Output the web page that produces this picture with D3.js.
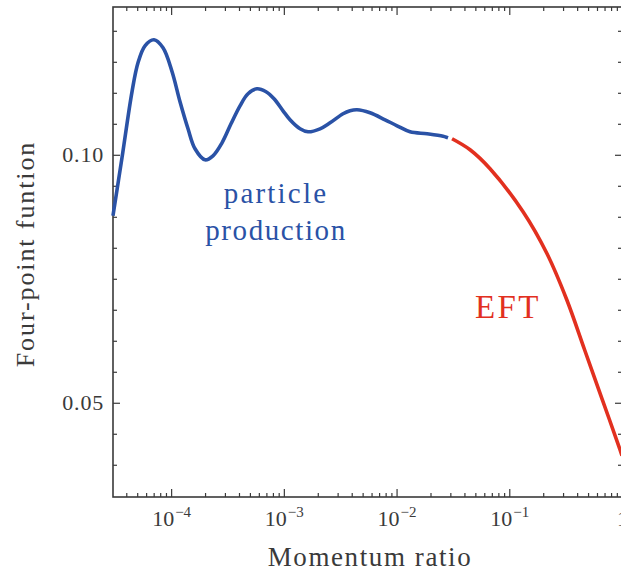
<!DOCTYPE html>
<html>
<head>
<meta charset="utf-8">
<script src="https://cdn.jsdelivr.net/npm/d3@7"></script>
<style>
  html, body { margin: 0; padding: 0; background: #fff; }
  svg { display: block; }
  text { font-family: "Liberation Serif", "DejaVu Serif", serif; }
</style>
</head>
<body>
<svg id="chart" width="621" height="571"></svg>
<script>
// ---- data ----
const blueRatio = [3.049e-5, 3.665e-5, 4.496e-5, 5.082e-5, 5.864e-5, 7.048e-5, 8.472e-5, 1.018e-4, 1.199e-4, 1.412e-4,
                   1.629e-4, 1.998e-4, 2.352e-4, 2.828e-4, 3.398e-4, 4.085e-4, 4.810e-4, 5.781e-4, 6.949e-4, 8.180e-4,
                   9.833e-4, 1.134e-3, 1.392e-3, 1.639e-3, 2.094e-3, 2.569e-3, 3.350e-3, 3.865e-3, 4.460e-3, 5.817e-3,
                   7.902e-3, 1.010e-2, 1.317e-2, 1.865e-2, 2.585e-2, 2.862e-2];
const blueValue = [0.08770, 0.09940, 0.11270, 0.11855, 0.12198, 0.12319, 0.12157, 0.11680, 0.11069, 0.10524,
                   0.10121, 0.09899, 0.09980, 0.10242, 0.10625, 0.10988, 0.11230, 0.11331, 0.11270, 0.11129,
                   0.10887, 0.10706, 0.10524, 0.10464, 0.10524, 0.10645, 0.10827, 0.10887, 0.10907, 0.10847,
                   0.10706, 0.10585, 0.10464, 0.10423, 0.10373, 0.10343];
const redRatio = [3.107e-2, 4.487e-2, 6.753e-2, 1.325e-1, 2.163e-1, 3.236e-1, 4.656e-1, 6.698e-1, 9.616e-1, 1.0];
const redValue = [0.10323, 0.10101, 0.09718, 0.08851, 0.08004, 0.07077, 0.06069, 0.05060, 0.04052, 0.03931];

const xMajorTicks = [1e-4, 1e-3, 1e-2, 1e-1, 1];
const xMajorExp = ["\u22124", "\u22123", "\u22122", "\u22121", ""];
const yMajorTicks = [0.05, 0.10];
const yMajorLabels = ["0.05", "0.10"];
const yMinorStep = 0.00625;

const xLabel = "Momentum ratio";
const yLabel = "Four-point funtion";
const blueText = ["particle", "production"];
const redText = "EFT";

// ---- layout ----
const L = 113, R = 622, T = 7, B = 497;
const blue = "#2a52a6", red = "#e2301f", axisCol = "#3a3a3a", textCol = "#3a3a3a";

const svg = d3.select("#chart");
const x = d3.scaleLog().domain([3.05e-5, 1]).range([L, R]);
const y = d3.scaleLinear().domain([0.031, 0.1298]).range([B, T]);

// minor ticks
const xMinor = [];
for (let e = -5; e <= -1; e++) for (let m = 2; m <= 9; m++) {
  const v = m * Math.pow(10, e);
  if (v >= 3.05e-5 && v < 1) xMinor.push(v);
}
const yMinor = [];
for (let v = 0.0375; v < 0.129; v += yMinorStep) {
  const vv = +v.toFixed(5);
  if (!yMajorTicks.some(t => Math.abs(t - vv) < 1e-6)) yMinor.push(vv);
}

function styleAxis(g) {
  g.select(".domain").remove();
  g.selectAll("line").attr("stroke", axisCol).attr("stroke-width", 1.2);
}

// bottom axis
svg.append("g").attr("transform", `translate(0,${B})`)
  .call(d3.axisBottom(x).tickValues(xMinor).tickSize(-4).tickFormat(""))
  .call(styleAxis);
const xb = svg.append("g").attr("transform", `translate(0,${B})`)
  .call(d3.axisBottom(x).tickValues(xMajorTicks).tickSize(-8).tickPadding(13).tickFormat(""))
  .call(styleAxis);
xb.selectAll(".tick text").each(function(d, i) {
  const t = d3.select(this).attr("fill", textCol).attr("font-size", 22)
    .attr("font-family", "Liberation Serif").attr("dy", "0.71em");
  if (xMajorExp[i] === "") {
    t.text("1");
  } else {
    t.append("tspan").text("10");
    t.append("tspan").attr("font-size", 15).attr("dy", "-0.55em").attr("dx", "1").text(xMajorExp[i]);
  }
});
// top axis
svg.append("g").attr("transform", `translate(0,${T})`)
  .call(d3.axisTop(x).tickValues(xMinor).tickSize(-4).tickFormat("")).call(styleAxis);
svg.append("g").attr("transform", `translate(0,${T})`)
  .call(d3.axisTop(x).tickValues(xMajorTicks).tickSize(-8).tickFormat("")).call(styleAxis);

// left axis
svg.append("g").attr("transform", `translate(${L},0)`)
  .call(d3.axisLeft(y).tickValues(yMinor).tickSize(-4).tickFormat("")).call(styleAxis);
const yl = svg.append("g").attr("transform", `translate(${L},0)`)
  .call(d3.axisLeft(y).tickValues(yMajorTicks).tickSize(-7).tickPadding(9)
    .tickFormat((d, i) => yMajorLabels[i]))
  .call(styleAxis);
yl.selectAll(".tick text").attr("fill", textCol).attr("font-size", 22)
  .attr("font-family", "Liberation Serif").attr("letter-spacing", 0.8);
// right axis
svg.append("g").attr("transform", `translate(${R},0)`)
  .call(d3.axisRight(y).tickValues(yMinor).tickSize(-4).tickFormat("")).call(styleAxis);
svg.append("g").attr("transform", `translate(${R},0)`)
  .call(d3.axisRight(y).tickValues(yMajorTicks).tickSize(-7).tickFormat("")).call(styleAxis);

// frame
svg.append("rect").attr("x", L).attr("y", T).attr("width", R - L).attr("height", B - T)
  .attr("fill", "none").attr("stroke", axisCol).attr("stroke-width", 1.6);

// curves
const line = d3.line().x(d => x(d[0])).y(d => y(d[1])).curve(d3.curveCatmullRom.alpha(0.5));
svg.append("path").datum(blueRatio.map((r, i) => [r, blueValue[i]]))
  .attr("d", line).attr("fill", "none").attr("stroke", blue).attr("stroke-width", 3.6)
  .attr("stroke-linejoin", "round");
svg.append("path").datum(redRatio.map((r, i) => [r, redValue[i]]))
  .attr("d", line).attr("fill", "none").attr("stroke", red).attr("stroke-width", 3.6)
  .attr("stroke-linejoin", "round");

// annotations
svg.append("text").attr("x", 276).attr("y", 203).attr("text-anchor", "middle")
  .attr("font-size", 29).attr("letter-spacing", 2.2).attr("fill", blue).text(blueText[0]);
svg.append("text").attr("x", 276).attr("y", 240).attr("text-anchor", "middle")
  .attr("font-size", 29).attr("letter-spacing", 1.6).attr("fill", blue).text(blueText[1]);
svg.append("text").attr("x", 508).attr("y", 318).attr("text-anchor", "middle")
  .attr("font-size", 33).attr("letter-spacing", 2.4).attr("fill", red).text(redText);

// axis titles
svg.append("text").attr("x", 370).attr("y", 566).attr("text-anchor", "middle")
  .attr("font-size", 27).attr("letter-spacing", 1.6).attr("fill", textCol).text(xLabel);
svg.append("text").attr("transform", "translate(34,254) rotate(-90)").attr("text-anchor", "middle")
  .attr("font-size", 26).attr("letter-spacing", 1.9).attr("fill", textCol).text(yLabel);
</script>
</body>
</html>
